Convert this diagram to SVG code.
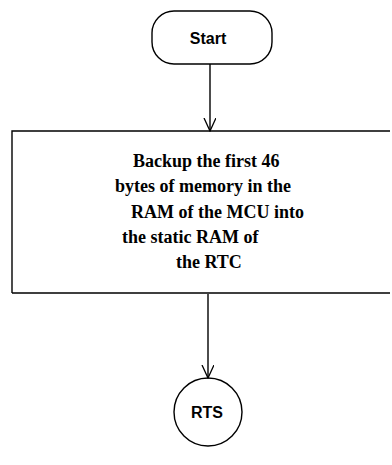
<svg xmlns="http://www.w3.org/2000/svg" width="392" height="465" viewBox="0 0 392 465">
<style>
.s{fill:none;stroke:#000;stroke-width:1.4}
.t{font-family:"Liberation Serif",serif;font-weight:bold;font-size:18px;fill:#000}
.h{font-family:"Liberation Sans",sans-serif;font-weight:bold;font-size:16px;fill:#000;text-anchor:middle}
</style>
<defs>
<marker id="a" markerWidth="14" markerHeight="14" refX="13" refY="6" orient="auto" markerUnits="userSpaceOnUse">
<path d="M0,0 L13,6 L0,12" fill="none" stroke="#000" stroke-width="1.3"/>
</marker>
</defs>
<rect width="392" height="465" fill="#fff"/>
<g id="start">
<rect class="s" x="152" y="11" width="120" height="53" rx="22" ry="22"/>
<text class="h" x="208" y="44">Start</text>
</g>
<g id="backup">
<path class="s" d="M12,293 L12,131 L390,131 M12,293 L390,293"/>
<text class="t" x="133" y="167">Backup the first 46</text>
<text class="t" x="115" y="192">bytes of memory in the</text>
<text class="t" x="131" y="218">RAM of the MCU into</text>
<text class="t" x="122" y="243">the static RAM of</text>
<text class="t" x="176" y="268">the RTC</text>
</g>
<g id="rts">
<circle class="s" cx="208" cy="412" r="34"/>
<text class="h" x="207" y="418">RTS</text>
</g>
<g id="connectors">
<line class="s" x1="210" y1="64" x2="210" y2="131" marker-end="url(#a)"/>
<line class="s" x1="208" y1="294" x2="208" y2="378" marker-end="url(#a)"/>
</g>
</svg>
